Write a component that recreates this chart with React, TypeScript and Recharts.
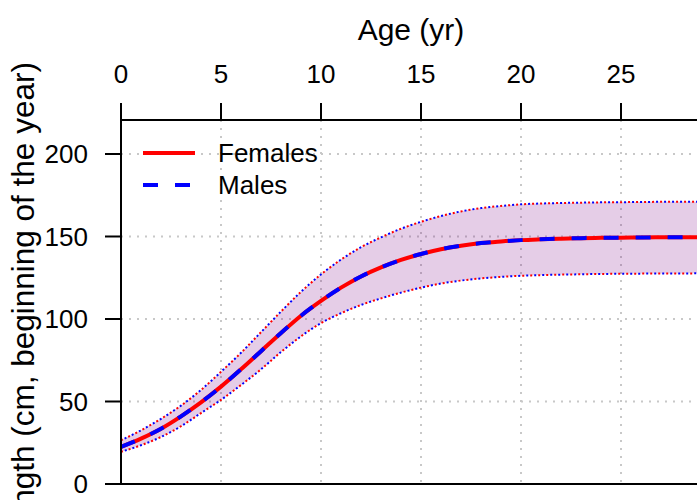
import React from 'react';
import {
  ComposedChart,
  Line,
  Area,
  XAxis,
  YAxis,
  CartesianGrid,
  ReferenceLine,
} from 'recharts';

const ages = [
  0, 1, 2, 3, 4, 5, 6, 7, 8, 9, 10, 11, 12, 13, 14, 15, 16, 17, 18, 19, 20, 21, 22, 23, 24, 25, 26,
  27, 28, 29,
];

// Females: mean length and the band around it (cm)
const femaleMean = [
  22.5, 27.5, 33.5, 41, 49.5, 59, 69.5, 80.5, 91.5, 102, 111, 119, 125.8, 131.3, 135.8, 139.4, 142.3,
  144.4, 146, 147, 147.8, 148.3, 148.7, 149, 149.2, 149.3, 149.4, 149.5, 149.5, 149.6,
];
const femaleUpper = [
  26.5, 32.5, 39.5, 47.5, 57, 68, 79.5, 92, 104.5, 116.5, 127, 136, 143.5, 149.5, 154.7, 158.9,
  162.4, 165.2, 167.2, 168.5, 169.5, 170, 170.3, 170.5, 170.7, 170.8, 170.9, 171, 171, 171.1,
];
const femaleLower = [
  19.5, 23.5, 28.5, 35, 43, 51, 60, 69.5, 80, 89.5, 97.5, 103.5, 108.5, 112.5, 116, 119, 121.5,
  123.3, 124.6, 125.5, 126.2, 126.6, 126.9, 127.1, 127.3, 127.4, 127.5, 127.6, 127.6, 127.7,
];

// Males: same readings (curves overlap in the figure)
const maleMean = [
  22.5, 27.5, 33.5, 41, 49.5, 59, 69.5, 80.5, 91.5, 102, 111, 119, 125.8, 131.3, 135.8, 139.4, 142.3,
  144.4, 146, 147, 147.8, 148.3, 148.7, 149, 149.2, 149.3, 149.4, 149.5, 149.5, 149.6,
];
const maleUpper = [
  26.5, 32.5, 39.5, 47.5, 57, 68, 79.5, 92, 104.5, 116.5, 127, 136, 143.5, 149.5, 154.7, 158.9,
  162.4, 165.2, 167.2, 168.5, 169.5, 170, 170.3, 170.5, 170.7, 170.8, 170.9, 171, 171, 171.1,
];
const maleLower = [
  19.5, 23.5, 28.5, 35, 43, 51, 60, 69.5, 80, 89.5, 97.5, 103.5, 108.5, 112.5, 116, 119, 121.5,
  123.3, 124.6, 125.5, 126.2, 126.6, 126.9, 127.1, 127.3, 127.4, 127.5, 127.6, 127.6, 127.7,
];

const xTicks = [0, 5, 10, 15, 20, 25];
const yTicks = [0, 50, 100, 150, 200];

const data = ages.map((age, i) => ({
  age,
  fMean: femaleMean[i],
  fUpper: femaleUpper[i],
  fLower: femaleLower[i],
  fBand: [femaleLower[i], femaleUpper[i]],
  mMean: maleMean[i],
  mUpper: maleUpper[i],
  mLower: maleLower[i],
  mBand: [maleLower[i], maleUpper[i]],
}));

const FONT = '"Liberation Sans", Arial, Helvetica, sans-serif';

const legendItems = [
  { name: 'Females', color: '#ff0000', dash: undefined },
  { name: 'Males', color: '#0000ff', dash: '15 17' },
];

function ChartLegend() {
  return (
    <div style={{ position: 'absolute', left: 141, top: 137, fontFamily: FONT }}>
      {legendItems.map((item) => (
        <div key={item.name} style={{ display: 'flex', alignItems: 'center', height: 32 }}>
          <svg width={56} height={32} style={{ display: 'block' }}>
            <line
              x1={2}
              x2={54}
              y1={16}
              y2={16}
              stroke={item.color}
              strokeWidth={4}
              strokeDasharray={item.dash}
            />
          </svg>
          <span style={{ marginLeft: 21, fontSize: 26, color: '#000', lineHeight: '32px' }}>
            {item.name}
          </span>
        </div>
      ))}
    </div>
  );
}

function XTitle(props: any) {
  const vb = props.viewBox || { x: 121, width: 580 };
  return (
    <text
      x={vb.x + vb.width / 2}
      y={40}
      textAnchor="middle"
      fontSize={30}
      fill="#000"
      fontFamily={FONT}
    >
      Age (yr)
    </text>
  );
}

function YTitle(props: any) {
  const vb = props.viewBox || { y: 120, height: 364 };
  const cx = 34;
  const cy = vb.y + vb.height / 2;
  return (
    <text
      x={cx}
      y={cy}
      transform={`rotate(-90 ${cx} ${cy})`}
      textAnchor="middle"
      fontSize={31.5}
      fill="#000"
      fontFamily={FONT}
    >
      Length (cm, beginning of the year)
    </text>
  );
}

export default function App() {
  return (
    <div
      style={{
        position: 'absolute',
        left: 0,
        top: 0,
        width: 697,
        height: 500,
        overflow: 'hidden',
        background: '#fff',
      }}
    >
      <ComposedChart
        width={720}
        height={560}
        data={data}
        margin={{ top: 0, right: 19, bottom: 76, left: 0 }}
        style={{ fontFamily: FONT }}
      >
        <CartesianGrid stroke="#c8c8c8" strokeWidth={2} strokeDasharray="2 6" />
        <XAxis
          dataKey="age"
          type="number"
          orientation="top"
          height={120}
          domain={[0, 29]}
          ticks={xTicks}
          interval={0}
          tickSize={17}
          tickMargin={20}
          axisLine={{ stroke: '#000', strokeWidth: 2 }}
          tickLine={{ stroke: '#000', strokeWidth: 2 }}
          tick={{ fill: '#000', fontSize: 26 }}
          label={<XTitle />}
        />
        <YAxis
          type="number"
          width={121}
          domain={[0, 220.6]}
          ticks={yTicks}
          interval={0}
          tickSize={16}
          tickMargin={17}
          axisLine={{ stroke: '#000', strokeWidth: 2 }}
          tickLine={{ stroke: '#000', strokeWidth: 2 }}
          tick={{ fill: '#000', fontSize: 26 }}
          label={<YTitle />}
        />
        <Area
          dataKey="fBand"
          type="monotone"
          stroke="none"
          fill="#ff0000"
          fillOpacity={0.1}
          legendType="none"
          isAnimationActive={false}
        />
        <Area
          dataKey="mBand"
          type="monotone"
          stroke="none"
          fill="#0000ff"
          fillOpacity={0.1}
          legendType="none"
          isAnimationActive={false}
        />
        <Line
          dataKey="fUpper"
          type="monotone"
          stroke="#ff0000"
          strokeWidth={2}
          strokeDasharray="2 6"
          dot={false}
          isAnimationActive={false}
        />
        <Line
          dataKey="fLower"
          type="monotone"
          stroke="#ff0000"
          strokeWidth={2}
          strokeDasharray="2 6"
          dot={false}
          isAnimationActive={false}
        />
        <Line
          dataKey="mUpper"
          type="monotone"
          stroke="#0000ff"
          strokeWidth={2}
          strokeDasharray="2 6"
          strokeDashoffset={4}
          dot={false}
          isAnimationActive={false}
        />
        <Line
          dataKey="mLower"
          type="monotone"
          stroke="#0000ff"
          strokeWidth={2}
          strokeDasharray="2 6"
          strokeDashoffset={4}
          dot={false}
          isAnimationActive={false}
        />
        <Line
          dataKey="fMean"
          name="Females"
          type="monotone"
          stroke="#ff0000"
          strokeWidth={4}
          dot={false}
          isAnimationActive={false}
        />
        <Line
          dataKey="mMean"
          name="Males"
          type="monotone"
          stroke="#0000ff"
          strokeWidth={4}
          strokeDasharray="15 17"
          dot={false}
          isAnimationActive={false}
        />
        <ReferenceLine y={0} stroke="#000" strokeWidth={2} />
        <ReferenceLine x={29} stroke="#000" strokeWidth={2} />
      </ComposedChart>
      <ChartLegend />
    </div>
  );
}
